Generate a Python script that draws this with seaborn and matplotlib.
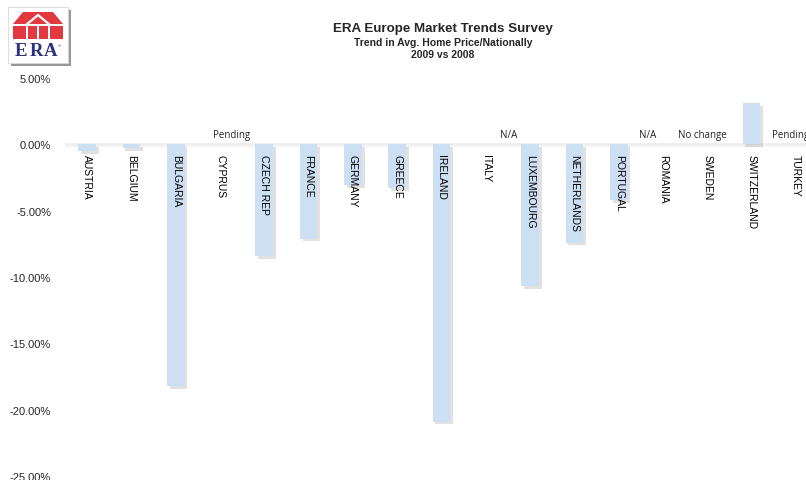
import numpy as np
import pandas as pd
import matplotlib
matplotlib.use("Agg")
import matplotlib.pyplot as plt
import matplotlib.patheffects as pe
from matplotlib.patches import Polygon, Rectangle
import seaborn as sns

# Survey data: change in average national home price, 2009 vs 2008 (%)
countries = ["AUSTRIA", "BELGIUM", "BULGARIA", "CYPRUS", "CZECH REP", "FRANCE",
             "GERMANY", "GREECE", "IRELAND", "ITALY", "LUXEMBOURG", "NETHERLANDS",
             "PORTUGAL", "ROMANIA", "SWEDEN", "SWITZERLAND", "TURKEY"]
price_change = [-0.5, -0.3, -18.2, np.nan, -8.4, -7.1,
                -3.1, -3.3, -20.9, np.nan, -10.7, -7.4,
                -4.2, np.nan, 0.0, 3.1, np.nan]
status_notes = {"CYPRUS": "Pending", "ITALY": "N/A", "ROMANIA": "N/A",
                "SWEDEN": "No change", "TURKEY": "Pending"}
y_ticks = [5, 0, -5, -10, -15, -20, -25]

title = "ERA Europe Market Trends Survey"
subtitle = "Trend in Avg. Home Price/Nationally\n2009 vs 2008"

sns.set_theme(style="white")
plt.rcParams["font.family"] = ["Liberation Sans", "DejaVu Sans"]

W, H = 806, 481
fig = plt.figure(figsize=(W / 100, H / 100), dpi=100)
fig.patch.set_facecolor("white")

# plot area (extends past the right edge of the canvas)
ax = fig.add_axes([65 / W, 4 / H, 753 / W, 398 / H])
df = pd.DataFrame({"country": countries, "change": price_change})
sns.barplot(data=df, x="country", y="change", order=countries, color="#cddff2",
            saturation=1, width=0.4, ax=ax, errorbar=None)

shadow = [pe.SimplePatchShadow(offset=(2, -2), shadow_rgbFace="#8a8a8a", alpha=0.25),
          pe.Normal()]
for bar in ax.patches:
    bar.set_linewidth(0)
    bar.set_path_effects(shadow)

ax.set_xlim(-0.5, len(countries) - 0.5)
ax.set_ylim(-25, 5)
ax.set_yticks(y_ticks)
ax.set_yticklabels([f"{t:.2f}%" for t in y_ticks], fontsize=8)
ax.tick_params(axis="y", length=0, pad=10)
ax.set_xticks([])
ax.set_xlabel("")
ax.set_ylabel("")
for s in ax.spines.values():
    s.set_visible(False)

# faint zero baseline
ax.axhline(0, color="#ebebeb", lw=1.2, zorder=0,
           path_effects=[pe.SimpleLineShadow(offset=(0, -1.2), shadow_color="#d6d6d6", alpha=0.35),
                         pe.Normal()])

# country names written downward from the baseline
for i, name in enumerate(countries):
    ax.text(i, -0.7, name, rotation=270, ha="center", va="top", fontsize=7.5,
            color="black")

# status notes for countries without a figure
note_shift = {"CYPRUS": 0.25, "ITALY": 0.52, "ROMANIA": -0.34,
              "SWEDEN": -0.11, "TURKEY": -0.11}
for name, note in status_notes.items():
    i = countries.index(name)
    ax.text(i + note_shift[name], 0.75, note, ha="center", va="center",
            fontsize=7, family=["Open Sans", "DejaVu Sans"], color="#222222")

# titles
fig.text(443 / W, 1 - 29 / H, title, ha="center", va="center",
         fontsize=9.6, fontweight="bold")
fig.text(443 / W, 1 - 49 / H, subtitle, ha="center", va="center",
         fontsize=7.5, fontweight="bold", linespacing=1.35)

# ERA logo in the corner, drawn in canvas pixel units
lg = fig.add_axes([0, 1 - 75 / H, 80 / W, 75 / H])
lg.set_xlim(0, 80)
lg.set_ylim(75, 0)
lg.axis("off")
lg.add_patch(Rectangle((8, 8), 60, 56, facecolor="white", edgecolor="#d8d8d8", lw=0.6,
                       path_effects=[pe.SimplePatchShadow(offset=(2.2, -2.2),
                                                          shadow_rgbFace="#444444", alpha=0.55),
                                     pe.Normal()]))
red = "#e2383f"
lg.add_patch(Polygon([(13, 25), (23, 13), (53, 13), (63, 25)], closed=True,
                     facecolor=red, edgecolor="none"))
lg.add_patch(Rectangle((13, 27), 50, 13, facecolor=red, edgecolor="none"))
# white house outline over the red blocks
lg.plot([26, 38, 50], [26, 16, 26], color="white", lw=1.6, solid_capstyle="butt")
for gx in (27, 38, 49):
    lg.add_patch(Rectangle((gx - 1, 27), 2, 13, facecolor="white", edgecolor="none"))
for lx, letter in zip((21, 36, 51), "ERA"):
    lg.text(lx, 52, letter, ha="center", va="center", fontsize=13.5, fontweight="bold",
            family=["Liberation Serif", "DejaVu Serif"], color="#2d2f7f")
lg.text(59.5, 46, "®", ha="center", va="center", fontsize=3, color="#2d2f7f")

fig.savefig("out.png", dpi=100, facecolor="white")
